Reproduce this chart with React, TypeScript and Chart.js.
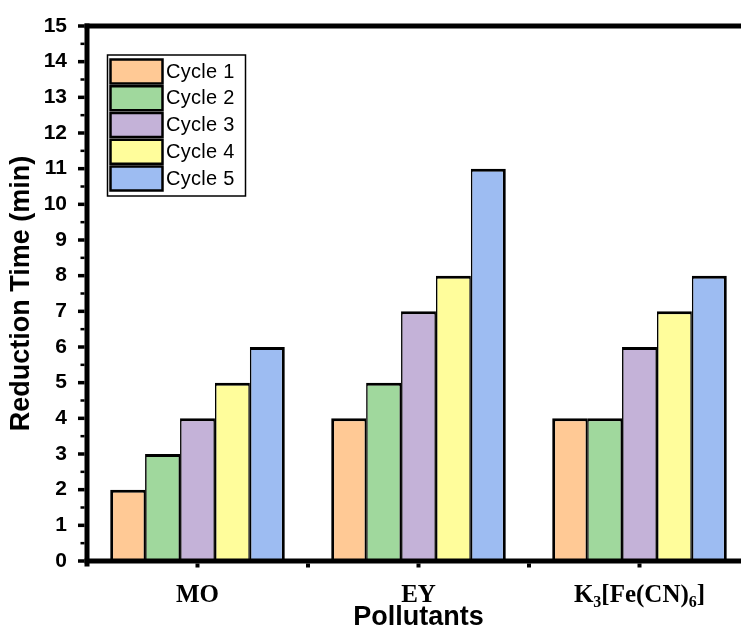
import { useEffect, useRef } from 'react';
import { Chart, registerables } from 'chart.js';

Chart.register(...registerables);

// ---- data ----
const categories = ['MO', 'EY', 'K3[Fe(CN)6]'];
const cycleLabels = ['Cycle 1', 'Cycle 2', 'Cycle 3', 'Cycle 4', 'Cycle 5'];
const cycle1 = [2, 4, 4];
const cycle2 = [3, 5, 4];
const cycle3 = [4, 7, 6];
const cycle4 = [5, 8, 7];
const cycle5 = [6, 11, 8];
const cycleColors = ['#FFC995', '#A0D89D', '#C4B2D8', '#FFFD9B', '#9DBCF2'];
const yMin = 0;
const yMax = 15;
const yStep = 1;
const xTitle = 'Pollutants';
const yTitle = 'Reduction Time (min)';

const SANS = '"Liberation Sans", Arial, sans-serif';
const SERIF = '"Liberation Serif", "Times New Roman", serif';
const W = 750;
const H = 641;

// Draws a label where digit runs are rendered as subscripts.
function drawSubscripted(ctx: CanvasRenderingContext2D, text: string, cx: number, cy: number, size: number) {
  const parts = text.split(/(\d+)/).filter((p) => p.length > 0);
  const big = `bold ${size}px ${SERIF}`;
  const small = `bold ${Math.round(size * 0.64)}px ${SERIF}`;
  const runs = parts.map((p) => {
    const sub = /^\d+$/.test(p);
    ctx.font = sub ? small : big;
    return { p, sub, w: ctx.measureText(p).width };
  });
  const total = runs.reduce((s, r) => s + r.w, 0);
  let x = cx - total / 2;
  ctx.textAlign = 'left';
  ctx.textBaseline = 'alphabetic';
  const base = cy + size * 0.33;
  for (const r of runs) {
    ctx.font = r.sub ? small : big;
    ctx.fillText(r.p, x, r.sub ? base + size * 0.2 : base);
    x += r.w;
  }
}

const framePlugin = {
  id: 'frame',
  afterDatasetsDraw(chart: any) {
    const { ctx, chartArea: a, scales } = chart;
    const xs = scales.x;
    const ys = scales.y;
    ctx.save();
    ctx.fillStyle = '#000';
    ctx.strokeStyle = '#000';

    // spines: top, bottom, left
    ctx.fillRect(a.left - 2.5, a.top - 2.5, chart.width - a.left + 2.5, 5);
    ctx.fillRect(a.left - 2.5, a.bottom - 2.5, chart.width - a.left + 2.5, 5);
    ctx.fillRect(a.left - 2.5, a.top - 2.5, 5, a.bottom - a.top + 8);

    // y ticks: majors at each step, minors halfway
    for (let v = yMin; v <= yMax + 1e-9; v += yStep / 2) {
      const py = ys.getPixelForValue(v);
      const major = Math.abs(v / yStep - Math.round(v / yStep)) < 1e-6;
      const len = major ? 6.5 : 4;
      const th = major ? 3.5 : 2.5;
      ctx.fillRect(a.left - 2.5 - len, py - th / 2, len, th);
    }

    // x ticks at category centres and between categories
    const centers = categories.map((_, i) => xs.getPixelForValue(i));
    const xt: number[] = [...centers];
    for (let i = 0; i < centers.length - 1; i++) xt.push((centers[i] + centers[i + 1]) / 2);
    for (const px of xt) ctx.fillRect(px - 2, a.bottom + 2.5, 4, 4);

    // category labels
    categories.forEach((c, i) => drawSubscripted(ctx, c, centers[i], 594, 25));

    // axis titles
    ctx.font = `bold 27px ${SANS}`;
    ctx.textAlign = 'center';
    ctx.textBaseline = 'middle';
    ctx.fillText(xTitle, (a.left + a.right) / 2, 618);
    ctx.save();
    ctx.translate(22, (a.top + a.bottom) / 2);
    ctx.rotate(-Math.PI / 2);
    ctx.fillText(yTitle, 0, 0);
    ctx.restore();

    // legend box
    const lx = a.left + 20.5;
    const ly = a.top + 29;
    ctx.lineWidth = 1.5;
    ctx.fillStyle = '#fff';
    ctx.fillRect(lx, ly, 138, 141);
    ctx.strokeRect(lx, ly, 138, 141);
    const items = chart.data.datasets;
    items.forEach((ds: any, i: number) => {
      const ry = ly + 4.5 + i * 26.75;
      ctx.fillStyle = ds.backgroundColor;
      ctx.fillRect(lx + 3, ry, 52, 24);
      ctx.lineWidth = 2.5;
      ctx.strokeStyle = '#000';
      ctx.strokeRect(lx + 3, ry, 52, 24);
      ctx.fillStyle = '#000';
      ctx.font = `20px ${SANS}`;
      (ctx as any).letterSpacing = '0.3px';
      ctx.textAlign = 'left';
      ctx.textBaseline = 'middle';
      ctx.fillText(ds.label, lx + 58.5, ry + 12.5);
      (ctx as any).letterSpacing = '0px';
    });
    ctx.restore();
  },
};

export default function App() {
  const ref = useRef<HTMLCanvasElement | null>(null);

  useEffect(() => {
    if (!ref.current) return;
    const series = [cycle1, cycle2, cycle3, cycle4, cycle5];
    const last = series.length - 1;
    const chart = new Chart(ref.current, {
      type: 'bar',
      data: {
        labels: categories,
        datasets: series.map((d, i) => ({
          label: cycleLabels[i],
          data: d,
          backgroundColor: cycleColors[i],
          borderColor: '#000',
          borderWidth: { top: 3, left: i === 0 ? 3 : 1.6, right: i === last ? 3 : 1.6, bottom: 0 },
          borderSkipped: 'start',
          categoryPercentage: 0.79,
          barPercentage: 1,
        })),
      },
      options: {
        responsive: false,
        animation: false,
        devicePixelRatio: 1,
        layout: { padding: { top: 26, left: 0, right: 0, bottom: 0 } },
        plugins: { legend: { display: false }, tooltip: { enabled: false }, title: { display: false } },
        scales: {
          x: {
            type: 'category',
            offset: true,
            grid: { display: false, drawTicks: false },
            border: { display: false },
            ticks: { display: false },
            afterFit(s: any) {
              s.height = 80;
              s.paddingLeft = 0;
              s.paddingRight = 0;
            },
          },
          y: {
            min: yMin,
            max: yMax,
            ticks: {
              stepSize: yStep,
              color: '#000',
              padding: 20,
              font: { family: SANS, size: 21, weight: 'bold' },
            },
            grid: { display: false, drawTicks: false },
            border: { display: false },
            afterFit(s: any) {
              s.width = 87;
              s.paddingTop = 0;
              s.paddingBottom = 0;
            },
          },
        },
      },
      plugins: [framePlugin],
    } as any);
    return () => chart.destroy();
  }, []);

  return (
    <div
      style={{
        position: 'fixed',
        left: 0,
        top: 0,
        width: 741,
        height: 641,
        overflow: 'hidden',
        background: '#fff',
      }}
    >
      <canvas ref={ref} width={W} height={H} style={{ display: 'block' }} />
    </div>
  );
}
